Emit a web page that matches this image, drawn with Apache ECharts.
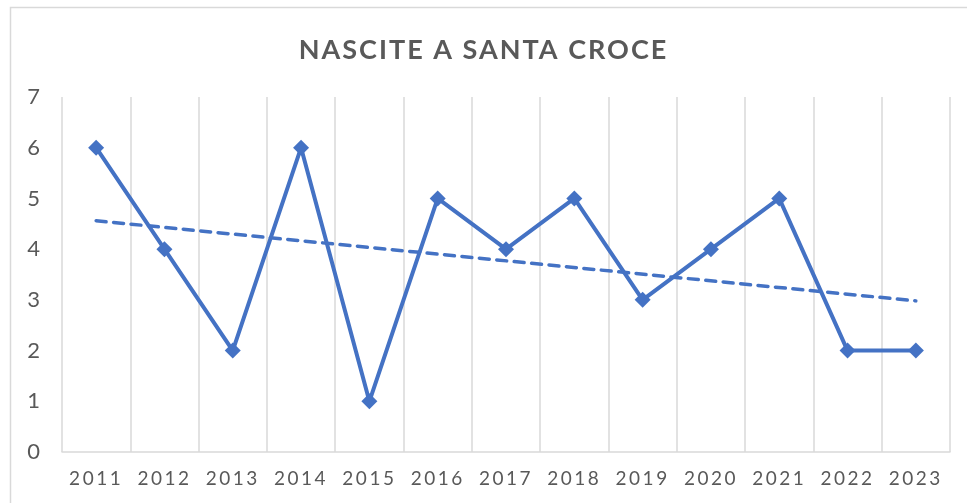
<!DOCTYPE html>
<html><head><meta charset="utf-8">
<script src="https://cdn.jsdelivr.net/npm/echarts@6/dist/echarts.min.js"></script>
<style>html,body{margin:0;padding:0;background:#fff}#c{width:967px;height:503px}</style>
</head><body><div id="c"></div>
<script>
const years = ['2011','2012','2013','2014','2015','2016','2017','2018','2019','2020','2021','2022','2023'];
const births = [6,4,2,6,1,5,4,5,3,4,5,2,2];
const trendEnds = [4.56, 2.98];
const yTicks = [0,1,2,3,4,5,6,7];
const titleText = 'NASCITE A SANTA CROCE';

// letter spacing for title and category labels (canvas property)
(function(){
  const p = CanvasRenderingContext2D.prototype;
  const orig = p.fillText;
  p.fillText = function(){
    try {
      if (/bold/.test(this.font)) this.letterSpacing = '2px';
      else if (/19px/.test(this.font)) this.letterSpacing = '2.5px';
      else this.letterSpacing = '0px';
    } catch(e){}
    return orig.apply(this, arguments);
  };
})();

const chart = echarts.init(document.getElementById('c'));
const trendData = [[years[0], trendEnds[0]], [years[years.length-1], trendEnds[1]]];
chart.setOption({
  animation:false,
  backgroundColor:'#fff',
  title:{text:titleText,left:'center',top:32,
    textStyle:{fontFamily:'Lato',fontWeight:'bold',fontSize:27,color:'#595959'}},
  graphic:[{type:'rect',shape:{x:10.5,y:7.5,width:980,height:520},
    style:{fill:'none',stroke:'#d9d9d9',lineWidth:1.5},silent:true}],
  grid:{left:62,right:17,top:97,bottom:51},
  xAxis:{type:'category',data:years,boundaryGap:true,
    axisLine:{show:true,lineStyle:{color:'#d9d9d9',width:1.5}},
    axisTick:{show:false},
    splitLine:{show:true,lineStyle:{color:'#d9d9d9',width:1.5}},
    axisLabel:{margin:17,interval:0,fontFamily:'Lato',fontSize:19,color:'#595959'}},
  yAxis:{type:'value',min:yTicks[0],max:yTicks[yTicks.length-1],interval:1,
    axisLine:{show:false},axisTick:{show:false},splitLine:{show:false},
    axisLabel:{margin:22,fontFamily:'Lato',fontSize:22,color:'#595959'}},
  series:[
    {type:'line',data:births,symbol:'diamond',symbolSize:[16,16],
      lineStyle:{color:'#4472C4',width:4},itemStyle:{color:'#4472C4'},z:3},
    {type:'line',data:trendData,symbol:'none',
      lineStyle:{color:'#4472C4',width:3.5,type:[10,7.5],cap:'round'},z:2}
  ]
});
</script></body></html>
